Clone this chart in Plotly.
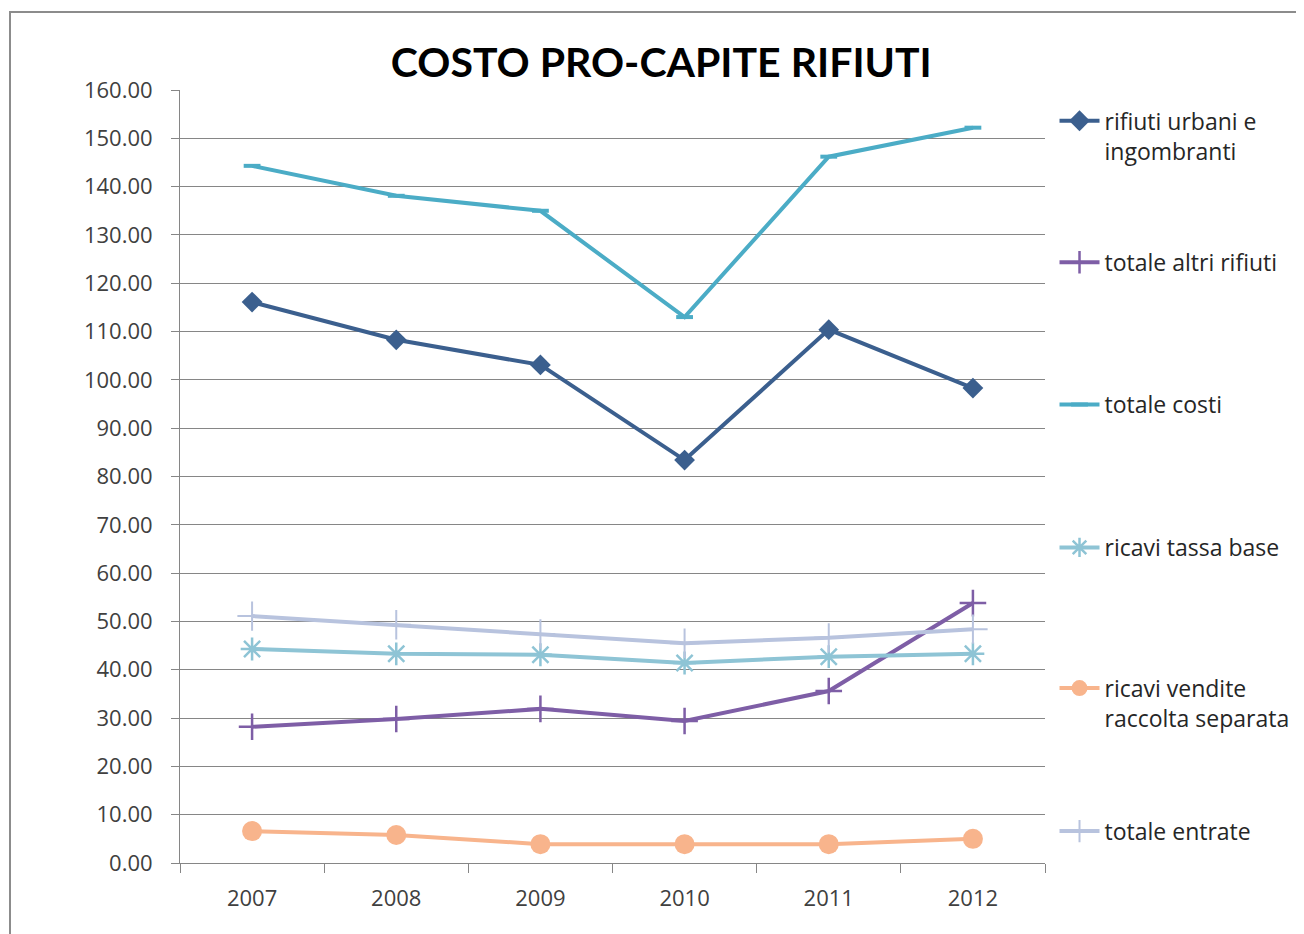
import plotly.graph_objects as go

anni = ["2007", "2008", "2009", "2010", "2011", "2012"]

rifiuti_urbani = [116.1, 108.3, 103.1, 83.4, 110.4, 98.3]
altri_rifiuti = [28.2, 29.8, 31.9, 29.4, 35.6, 53.8]
totale_costi = [144.3, 138.1, 135.0, 113.0, 146.2, 152.2]
tassa_base = [44.3, 43.3, 43.1, 41.4, 42.7, 43.3]
vendite_raccolta = [6.6, 5.8, 3.9, 3.9, 3.9, 5.0]
totale_entrate = [51.1, 49.3, 47.4, 45.5, 46.6, 48.4]

FONT = "Open Sans"

# nome, valori, colore, simbolo, dimensione marker, spessore bordo marker, legenda, y legenda
serie = [
    ("rifiuti urbani e<br>ingombranti", rifiuti_urbani, "#3B5F8E", "diamond", 16, 0, "legend", 0.988),
    ("totale altri rifiuti", altri_rifiuti, "#7E5EA6", "cross-thin", 19, 2.5, "legend2", 0.805),
    ("totale costi", totale_costi, "#4BACC6", "line-ew", 12, 4, "legend3", 0.621),
    ("ricavi tassa base", tassa_base, "#8EC4D5", "asterisk", 19, 2.5, "legend4", 0.436),
    ("ricavi vendite<br>raccolta separata", vendite_raccolta, "#F8B48C", "circle", 20, 0, "legend5", 0.254),
    ("totale entrate", totale_entrate, "#B8C3DE", "cross-thin", 21, 2, "legend6", 0.069),
]

fig = go.Figure()
layout_legends = {}
for nome, vals, col, sym, sz, lw, leg, ly in serie:
    fig.add_trace(go.Scatter(
        x=anni, y=vals, name=nome, mode="lines+markers",
        line=dict(color=col, width=4),
        marker=dict(symbol=sym, size=sz, color=col,
                    line=dict(color=col, width=lw)),
        legend=leg,
    ))
    layout_legends[leg] = dict(
        x=1.011, xanchor="left", y=ly, yanchor="top", valign="top",
        font=dict(family=FONT, size=23, color="#262626"),
        bgcolor="rgba(0,0,0,0)", itemwidth=40,
    )

fig.update_layout(
    width=1304, height=934,
    margin=dict(l=172, r=267, t=82, b=79),
    paper_bgcolor="white", plot_bgcolor="white",
    title=dict(text="<b>COSTO PRO-CAPITE RIFIUTI</b>", x=0.501, xanchor="center",
               y=0.941, yanchor="middle",
               font=dict(family="Lato", size=41, color="black")),
    showlegend=True,
    **layout_legends,
)

fig.update_xaxes(
    type="category", range=[-0.5, 5.5], tickson="boundaries", ticks="outside",
    ticklen=9, tickcolor="#868686", showline=True, linecolor="#868686",
    linewidth=1, showgrid=False, ticklabelstandoff=16,
    tickfont=dict(family=FONT, size=22, color="#404040"),
)
fig.update_yaxes(
    range=[0, 160], dtick=10, tickformat=".2f", ticks="outside", ticklen=8,
    tickcolor="#868686", showline=True, linecolor="#868686", linewidth=1,
    showgrid=True, gridcolor="#868686", gridwidth=1, zeroline=False,
    ticklabelstandoff=14,
    tickfont=dict(family=FONT, size=22, color="#404040"),
)

# cornice grigia dell'immagine
fig.add_shape(type="rect", xref="paper", yref="paper",
              x0=(2 - 172) / 865, x1=(1310 - 172) / 865,
              y0=(855 - 940) / 773, y1=(855 - 4) / 773,
              line=dict(color="#8C8C8C", width=2), layer="below")

fig.write_html("out.html")
